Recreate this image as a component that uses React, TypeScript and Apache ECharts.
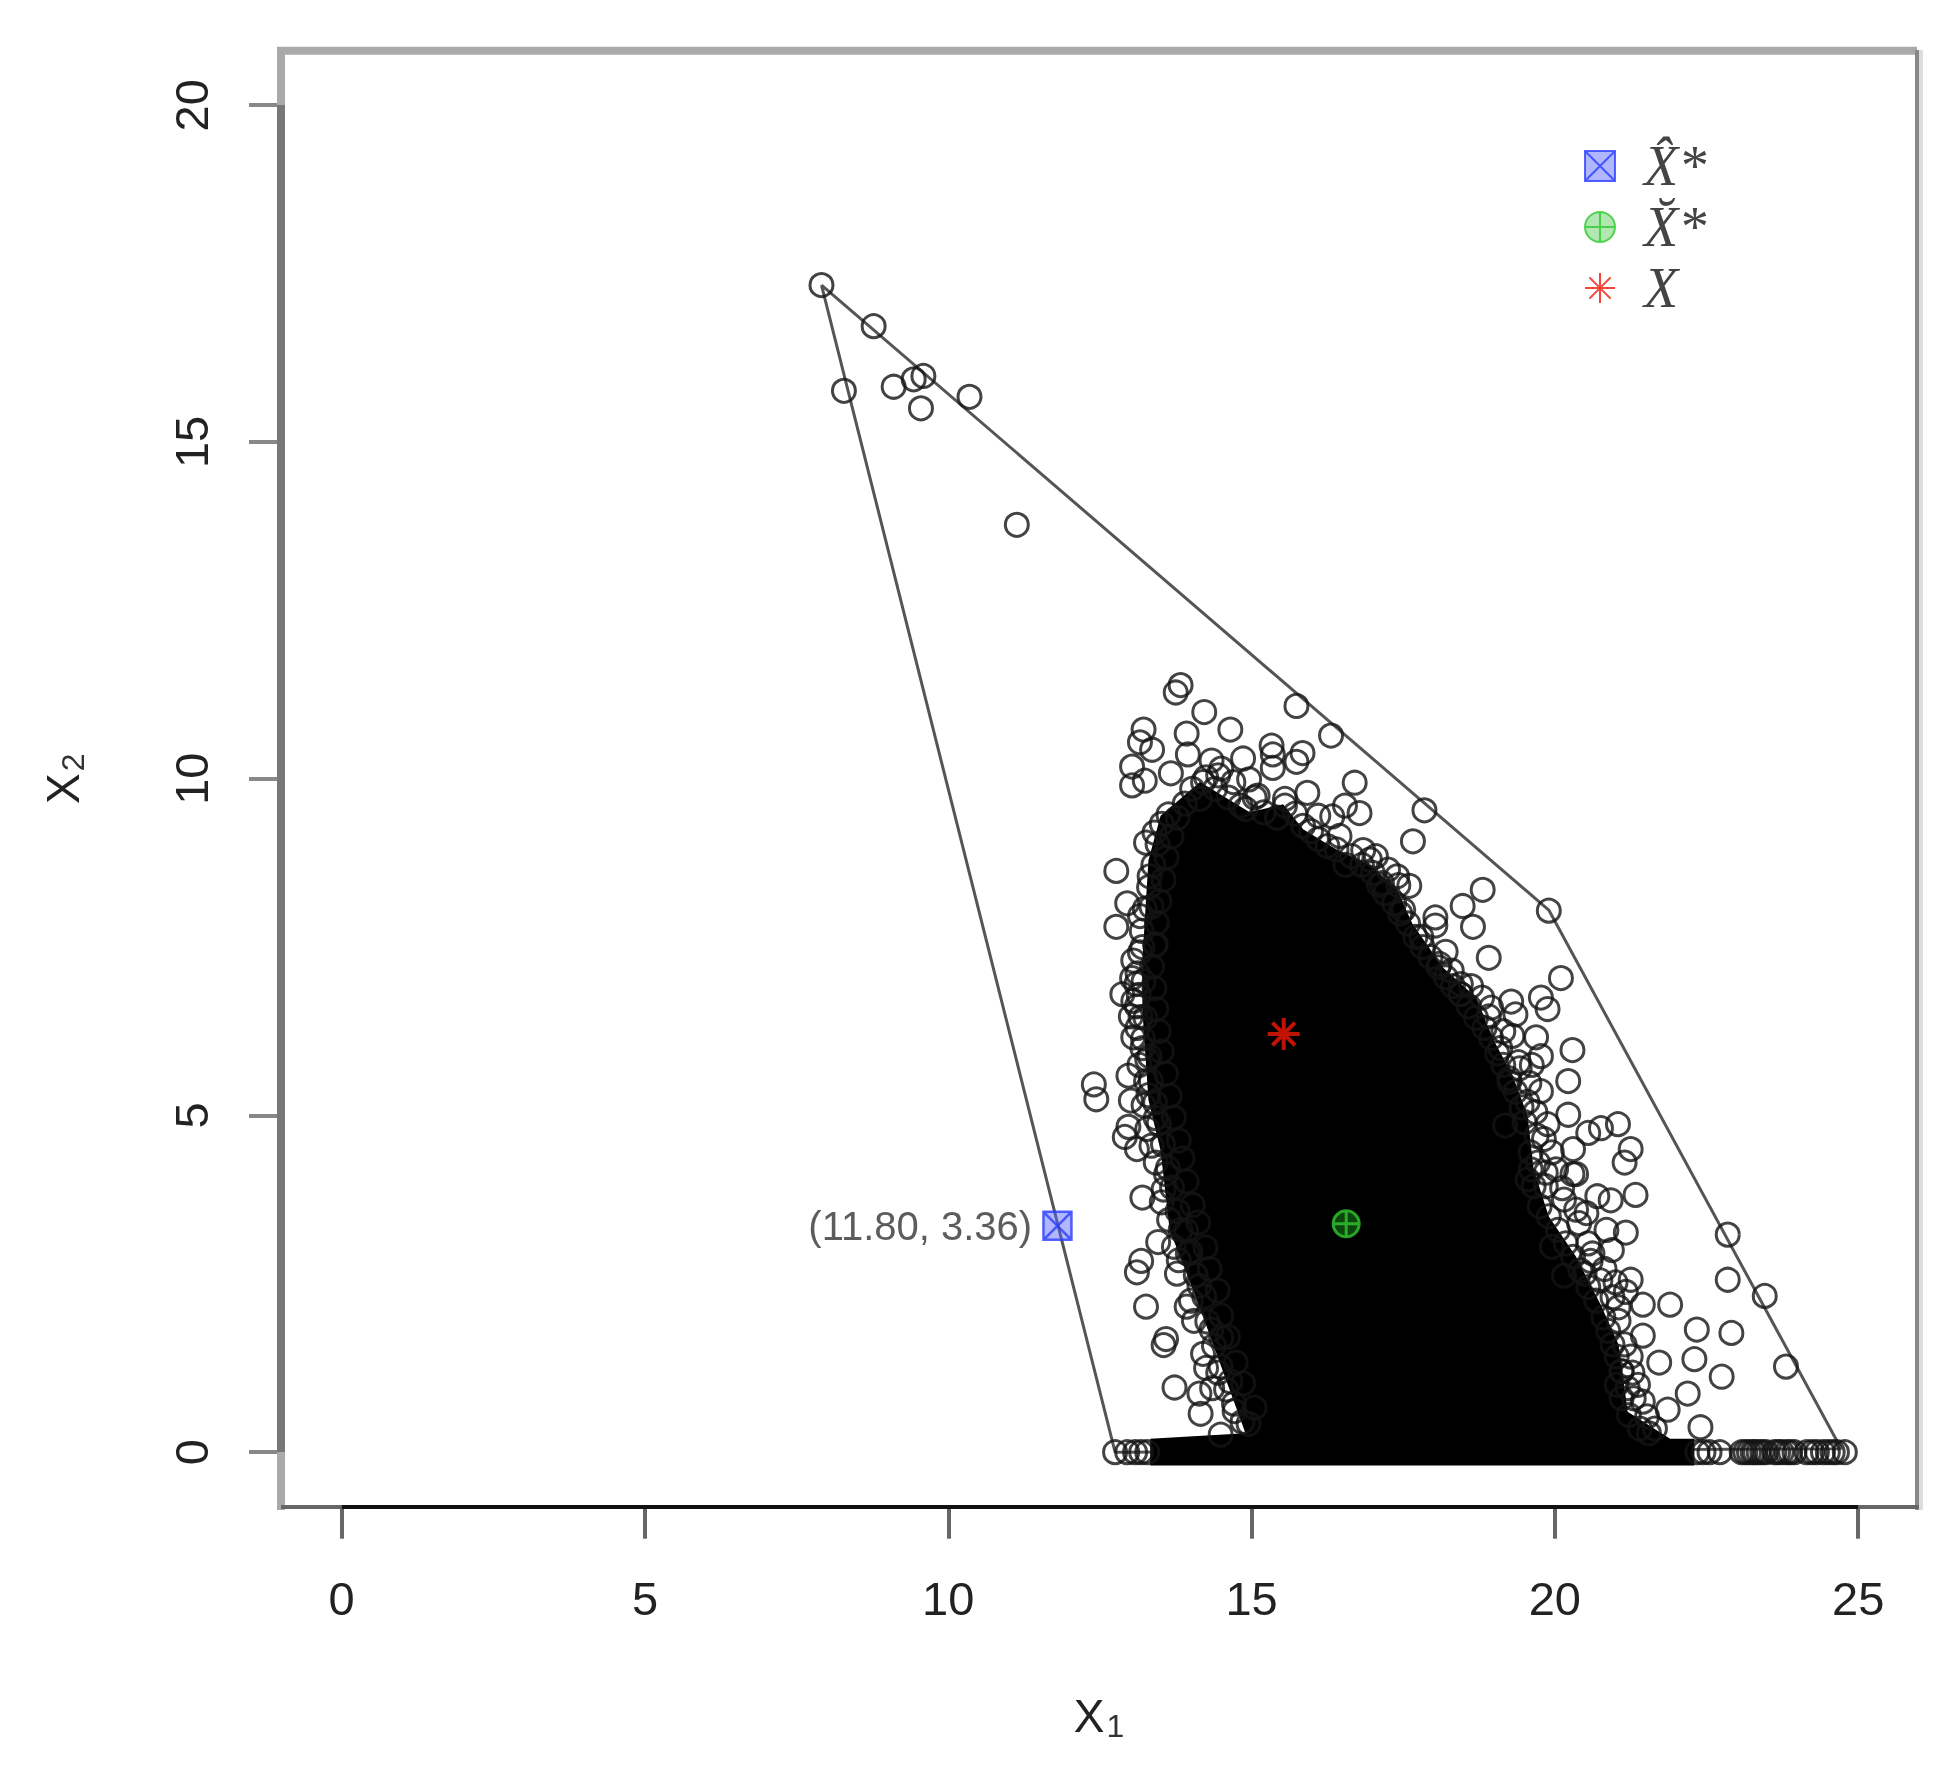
import React, { useEffect, useRef } from "react";
import * as echarts from "echarts";

const xTicks = [0, 5, 10, 15, 20, 25];
const yTicks = [0, 5, 10, 15, 20];

const hull = [[7.91, 17.33], [19.9, 8.05], [24.72, 0.05], [12.75, 0], [7.91, 17.33]];

const blobOutline = [
  [13.33, -0.2], [13.33, 0.2], [14.9, 0.28], [14.1, 2.26], [13.65, 3.3], [13.5, 4.48], [13.3, 5.23], [13.2, 6.56],
  [13.2, 7.3], [13.3, 8.79], [13.5, 9.45], [14.15, 9.95], [14.97, 9.5], [15.52, 9.62], [15.85, 9.25], [16.4, 8.95],
  [16.95, 8.72], [17.4, 8.35], [17.65, 7.85], [18.15, 7.2], [18.7, 6.75], [19.0, 6.1], [19.3, 5.6], [19.55, 5.0],
  [19.65, 4.2], [19.9, 3.5], [20.35, 2.9], [20.75, 2.2], [21.05, 1.6], [21.2, 0.6], [21.9, 0.2], [22.3, 0.2], [22.3, -0.2],
];

const upperPoints = [
  [7.91, 17.33], [8.77, 16.72], [8.28, 15.76], [9.1, 15.82], [9.43, 15.93], [9.59, 15.98], [9.55, 15.5],
  [10.35, 15.67], [11.13, 13.77],
];

const topFringe = [
  [13.83, 11.39], [13.75, 11.28], [13.22, 10.73], [13.16, 10.54], [13.03, 10.18], [13.36, 10.43], [13.03, 9.9],
  [13.24, 9.97], [14.22, 10.99], [13.93, 10.67], [14.65, 10.73], [15.74, 11.08], [16.31, 10.64], [13.95, 10.36],
  [13.67, 10.08], [14.34, 10.27], [14.86, 10.3], [15.33, 10.49], [15.35, 10.36], [15.84, 10.38], [15.74, 10.25],
  [14.96, 9.99], [15.35, 10.16], [15.92, 9.79], [16.7, 9.94], [16.54, 9.6], [16.78, 9.49], [16.33, 9.44],
  [17.85, 9.53], [17.66, 9.07], [16.84, 8.94], [17.42, 8.42], [17.6, 8.41], [17.25, 8.65], [19.9, 8.04],
  [18.81, 8.35], [18.48, 8.11], [18.03, 7.94], [18.03, 7.82], [18.65, 7.8], [18.91, 7.34], [18.2, 7.43],
  [14.2, 9.95], [14.45, 10.05], [14.7, 9.95], [15.1, 9.75], [15.55, 9.7], [16.1, 9.45], [16.45, 9.15],
  [16.95, 8.8], [17.15, 8.45], [17.5, 8.05], [17.8, 7.65], [18.1, 7.25], [18.45, 6.95], [18.8, 6.75],
];

const rightFringe = [
  [20.1, 7.04], [19.77, 6.75], [19.28, 6.69], [19.88, 6.58], [19.3, 6.18], [19.69, 6.16], [20.29, 5.97],
  [18.91, 6.47], [18.44, 6.8], [19.77, 5.88], [19.4, 5.79], [20.22, 5.51], [19.77, 5.36], [20.22, 5.01],
  [19.88, 4.87], [21.04, 4.87], [20.76, 4.81], [20.55, 4.74], [21.25, 4.5], [21.15, 4.3], [20.35, 4.13],
  [20.29, 4.13], [20.7, 3.8], [20.92, 3.74], [21.33, 3.82], [21.17, 3.26], [20.94, 3.0], [22.85, 3.23],
  [22.85, 2.56], [23.46, 2.32], [22.91, 1.77], [23.81, 1.27], [22.75, 1.12], [21.9, 2.19], [21.45, 2.19],
  [22.34, 1.82], [22.3, 1.38], [22.19, 0.87], [22.4, 0.37], [21.72, 1.33], [21.45, 1.73], [21.86, 0.63],
  [21.25, 2.56], [21.17, 2.38], [21.37, 1.0], [21.52, 0.53], [20.59, 2.84], [20.49, 2.65],
  [19.1, 6.0], [19.25, 5.5], [19.55, 5.2], [19.7, 4.7], [19.95, 4.45], [19.6, 4.2], [19.85, 3.95],
  [20.15, 3.75], [20.4, 3.4], [20.55, 3.1], [20.75, 2.55], [20.95, 2.3], [21.05, 1.95], [21.15, 1.6],
  [21.1, 1.2], [21.3, 0.8], [21.65, 0.35], [20.85, 3.3], [20.3, 4.5], [19.35, 6.5],
];

const leftFringe = [
  [12.77, 8.63], [12.95, 8.15], [13.16, 7.96], [12.77, 7.8], [12.87, 6.8], [13.03, 7.04], [13.01, 6.47],
  [13.05, 6.16], [12.97, 5.59], [13.26, 5.51], [12.4, 5.46], [12.44, 5.24], [13.01, 5.22], [12.97, 4.83],
  [12.91, 4.68], [13.11, 4.5], [13.2, 3.78], [13.52, 3.71], [13.46, 3.12], [13.18, 2.84], [13.11, 2.67],
  [13.26, 2.16], [13.59, 1.68], [13.55, 1.59], [13.73, 0.96], [13.77, 2.65], [13.93, 2.16], [14.14, 0.87],
  [14.16, 0.57], [14.49, 0.26], [14.2, 1.46], [14.34, 1.82], [13.26, 9.05], [13.63, 9.47], [13.32, 8.55],
  [13.42, 7.54], [13.22, 6.99], [13.11, 6.62], [13.32, 5.88], [13.42, 4.96], [13.59, 4.13], [13.83, 3.3],
  [14.14, 2.47], [14.45, 1.18], [14.71, 0.72], [13.4, 9.2], [13.35, 8.1], [13.2, 7.5], [13.25, 6.45],
  [13.2, 6.0], [13.3, 5.3], [13.35, 4.55], [13.55, 3.9], [13.95, 2.95], [14.05, 1.95], [14.5, 1.7],
  [14.65, 1.05], [14.85, 0.45],
];

const denseLeft = [
  [14.95, 0.42], [14.72, 0.61], [15.05, 0.66], [14.58, 0.93], [14.86, 1.02], [14.49, 1.27], [14.74, 1.33], [14.38, 1.58],
  [14.61, 1.71], [14.27, 1.94], [14.5, 2.03], [14.22, 2.31], [14.44, 2.4], [14.08, 2.63], [14.31, 2.72], [13.99, 2.98],
  [14.24, 3.04], [13.92, 3.29], [14.12, 3.41], [13.78, 3.58], [14.03, 3.67], [13.69, 3.93], [13.93, 4.02], [13.62, 4.22],
  [13.86, 4.36], [13.54, 4.57], [13.8, 4.63], [13.47, 4.88], [13.72, 4.97], [13.41, 5.19], [13.65, 5.29], [13.34, 5.51],
  [13.59, 5.62], [13.28, 5.83], [13.52, 5.95], [13.21, 6.14], [13.47, 6.25], [13.17, 6.46], [13.43, 6.58], [13.14, 6.79],
  [13.4, 6.89], [13.12, 7.11], [13.36, 7.21], [13.16, 7.42], [13.41, 7.53], [13.19, 7.74], [13.44, 7.86], [13.24, 8.07],
  [13.48, 8.18], [13.31, 8.39], [13.55, 8.5], [13.38, 8.72], [13.6, 8.83], [13.45, 9.03], [13.68, 9.14], [13.52, 9.33],
  [13.78, 9.42], [13.9, 9.63], [14.02, 9.85], [14.15, 9.7], [14.25, 10.02], [14.4, 9.85], [14.5, 10.15], [14.62, 9.72],
  [14.82, 9.6], [13.05, 7.3], [13.1, 6.95], [13.05, 6.7], [13.12, 6.3], [13.15, 5.75], [13.22, 5.15], [13.28, 4.8],
  [13.42, 4.3], [13.64, 3.45], [13.72, 3.05], [13.8, 2.85], [14.0, 2.25], [14.25, 1.25], [14.35, 0.95],
];

const denseRight = [
  [14.9, 9.55], [15.2, 9.5], [15.55, 9.6], [15.85, 9.3], [16.1, 9.1], [16.4, 8.95], [16.65, 8.85], [17.0, 8.6],
  [17.2, 8.3], [17.45, 8.0], [17.7, 7.65], [17.95, 7.35], [18.2, 7.05], [18.45, 6.8], [18.7, 6.45], [18.95, 6.15],
  [19.15, 5.75], [19.35, 5.35], [19.5, 4.9], [19.6, 4.45], [19.55, 4.05], [19.75, 3.65], [20.05, 3.3], [20.3, 2.9],
  [20.55, 2.45], [20.8, 2.0], [20.95, 1.6], [21.1, 1.2], [21.1, 0.8], [21.4, 0.35],
  [15.05, 9.72], [15.42, 9.42], [15.72, 9.48], [15.98, 9.22], [16.25, 9.0], [16.55, 8.72], [16.82, 8.72], [17.1, 8.42],
  [17.35, 8.15], [17.58, 7.85], [17.82, 7.5], [18.08, 7.2], [18.32, 6.92], [18.58, 6.62], [18.84, 6.3], [19.05, 5.92],
  [19.25, 5.55], [19.45, 5.12], [19.68, 5.05], [19.82, 4.65], [19.72, 4.3], [19.65, 3.95], [19.9, 3.5], [20.18, 3.1],
  [20.42, 2.7], [20.68, 2.25], [20.88, 1.8], [21.02, 1.42], [21.02, 1.0], [21.22, 0.55], [21.55, 0.28], [17.05, 8.85],
  [17.4, 8.55], [18.3, 7.15], [18.62, 6.92], [18.95, 6.6], [19.15, 6.25], [19.42, 5.7], [19.58, 5.48], [20.02, 4.2],
  [20.12, 3.92], [20.52, 3.55], [20.62, 2.95], [20.82, 2.72], [21.0, 2.52], [21.05, 2.15], [21.25, 1.42], [21.28, 1.18],
  [21.45, 0.75], [21.2, 0.95], [20.35, 3.6], [20.15, 2.62], [19.95, 3.05], [19.62, 5.75], [19.18, 4.85], [19.85, 4.15],
];

const baselineX = [
  12.75, 12.95, 13.08, 13.18, 13.28, 22.35, 22.45, 22.55, 22.72, 23.08, 23.14, 23.2, 23.26, 23.3, 23.36, 23.42, 23.48,
  23.62, 23.68, 23.74, 23.82, 23.88, 23.95, 24.15, 24.24, 24.32, 24.42, 24.5, 24.58, 24.65, 24.78,
];

const optimumHat = [[11.8, 3.36]];
const optimumBreve = [[16.56, 3.39]];
const meanPoint = [[15.53, 6.21]];
const markerLabel = "(11.80, 3.36)";
const legendNames = ["X\u0302*", "X\u0306*", "X"];

const squareIcon = "path://M0 0H28V28H0Z M0 0L28 28 M28 0L0 28";
const plusIcon = "path://M14 0A14 14 0 1 1 14 28A14 14 0 1 1 14 0Z M14 0V28 M0 14H28";
const starIcon = "path://M16 0V32 M0 16H32 M4.7 4.7L27.3 27.3 M27.3 4.7L4.7 27.3";

const ring = { color: "transparent", borderColor: "#141414", borderWidth: 3 };

function rect(x: number, y: number, width: number, height: number, fill: string) {
  return { type: "rect", silent: true, z: 1, shape: { x, y, width, height }, style: { fill } };
}

export default function App() {
  const ref = useRef<HTMLDivElement>(null);
  useEffect(() => {
    const chart = echarts.init(ref.current!, null, { renderer: "svg" });
    const allPoints = [
      ...upperPoints, ...topFringe, ...rightFringe, ...leftFringe, ...denseLeft, ...denseRight,
      ...baselineX.map((x) => [x, 0]),
    ];
    const font = "'Liberation Sans', Arial, sans-serif";
    const nameRich = {
      x: { fontFamily: font, fontSize: 46, color: "#222", lineHeight: 52 },
      s: { fontFamily: font, fontSize: 32, color: "#333", lineHeight: 52, verticalAlign: "bottom", padding: [14, 0, 0, 2] },
    };
    chart.setOption({
      animation: false,
      backgroundColor: "#fff",
      grid: { left: 281, right: 30, top: 50.7, bottom: 261.3, outerBoundsMode: "none" },
      legend: {
        left: 1579, top: 133, orient: "vertical", itemWidth: 30, itemHeight: 30, itemGap: 5, selectedMode: false,
        textStyle: { fontFamily: "'Liberation Serif', serif", fontStyle: "italic", fontSize: 56, lineHeight: 40, color: "#444", padding: [0, 0, 0, 24] },
        data: [
          { name: legendNames[0], icon: squareIcon },
          { name: legendNames[1], icon: plusIcon },
          { name: legendNames[2], icon: starIcon },
        ],
      },
      xAxis: {
        type: "value", min: -1, max: 25.97, splitLine: { show: false }, axisLine: { show: false, onZero: false },
        name: "{x|X}{s|1}", nameLocation: "middle", nameGap: 183, nameTextStyle: { rich: nameRich },
        axisTick: { show: true, length: 32, lineStyle: { color: "#666", width: 4 }, customValues: xTicks },
        axisLabel: { customValues: xTicks, margin: 68, fontFamily: font, fontSize: 47, color: "#222" },
      },
      yAxis: {
        type: "value", min: -0.81, max: 20.81, splitLine: { show: false }, axisLine: { show: false, onZero: false },
        name: "{x|X}{s|2}", nameLocation: "middle", nameGap: 192, nameRotate: 90, nameTextStyle: { rich: nameRich },
        axisTick: { show: true, length: 32, lineStyle: { color: "#888", width: 4 }, customValues: yTicks },
        axisLabel: { customValues: yTicks, rotate: 90, margin: 66, fontFamily: font, fontSize: 47, color: "#222" },
      },
      graphic: [
        rect(277, 46.7, 1640, 8, "#aaa"),
        rect(277, 50, 8, 55, "#aaa"),
        rect(277, 105, 8, 1347, "#777"),
        rect(277, 1452, 8, 58, "#aaa"),
        rect(1915, 50, 4, 1460, "#888"),
        rect(1919, 50, 4, 1460, "#ddd"),
        rect(281, 1505, 61, 4, "#666"),
        rect(342, 1505, 1516, 4, "#111"),
        rect(1858, 1505, 61, 4, "#666"),
      ],
      series: [
        {
          type: "line", data: hull, symbol: "none", silent: true, z: 2,
          lineStyle: { color: "#555", width: 3 },
        },
        {
          type: "custom", data: [[0, 0]], silent: true, z: 3, coordinateSystem: "cartesian2d",
          renderItem: (_p: any, api: any) => ({
            type: "polygon",
            shape: { points: blobOutline.map((p) => api.coord(p)) },
            style: { fill: "#000" },
          }),
        },
        {
          type: "scatter", data: allPoints, symbol: "circle", symbolSize: 23, silent: true, z: 4,
          itemStyle: ring,
        },
        {
          name: legendNames[0], type: "scatter", data: optimumHat, symbol: squareIcon, symbolSize: 28, z: 6, silent: true,
          itemStyle: { color: "rgba(90,105,255,0.6)", borderColor: "#2a3cff", borderWidth: 2.5 },
          label: { show: true, position: "left", distance: 10, formatter: markerLabel, fontFamily: font, fontSize: 40, color: "#333" },
        },
        {
          name: legendNames[1], type: "scatter", data: optimumBreve, symbol: plusIcon, symbolSize: 26, z: 6, silent: true,
          itemStyle: { color: "rgba(40,190,40,0.45)", borderColor: "#2fc82f", borderWidth: 3 },
        },
        {
          name: legendNames[2], type: "scatter", data: meanPoint, symbol: starIcon, symbolSize: 32, z: 6, silent: true,
          itemStyle: { color: "rgba(255,0,0,0.3)", borderColor: "#f01808", borderWidth: 4 },
        },
      ],
    });
    return () => chart.dispose();
  }, []);
  return <div ref={ref} style={{ position: "absolute", left: 0, top: 0, width: 1947, height: 1768, filter: "blur(0.5px)" }} />;
}
